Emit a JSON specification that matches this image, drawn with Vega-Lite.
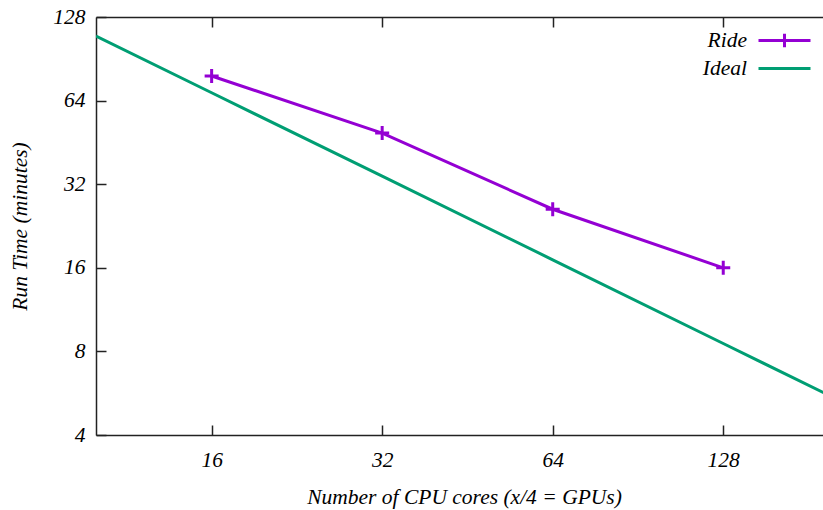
{
  "$schema": "https://vega.github.io/schema/vega-lite/v6.json",
  "width": 727,
  "height": 418,
  "autosize": {"type": "none"},
  "padding": {"left": 96, "top": 17, "right": 0, "bottom": 75},
  "background": "white",
  "config": {
    "view": {"stroke": null},
    "font": "Liberation Serif",
    "axis": {
      "grid": false,
      "labelFont": "Liberation Serif",
      "labelFontStyle": "italic",
      "labelFontSize": 21.5,
      "labelColor": "#000000",
      "titleFont": "Liberation Serif",
      "titleFontStyle": "italic",
      "titleFontWeight": "normal",
      "titleFontSize": 21.5,
      "titleColor": "#000000",
      "domainColor": "#222222",
      "domainWidth": 1.5,
      "tickColor": "#222222",
      "tickWidth": 1.5,
      "tickSize": -10
    }
  },
  "datasets": {
    "runs": [
      {"cores": 10, "time": 109.3, "series": "Ideal"},
      {"cores": 16, "time": 68.3, "series": "Ideal"},
      {"cores": 32, "time": 34.2, "series": "Ideal"},
      {"cores": 64, "time": 17.1, "series": "Ideal"},
      {"cores": 128, "time": 8.54, "series": "Ideal"},
      {"cores": 200, "time": 5.47, "series": "Ideal"},
      {"cores": 16, "time": 78.5, "series": "Ride"},
      {"cores": 32, "time": 48.9, "series": "Ride"},
      {"cores": 64, "time": 26.0, "series": "Ride"},
      {"cores": 128, "time": 16.0, "series": "Ride"}
    ]
  },
  "data": {"name": "runs"},
  "layer": [
    {
      "mark": {"type": "line", "strokeWidth": 3, "clip": true},
      "encoding": {
        "x": {
          "field": "cores", "type": "quantitative",
          "scale": {"type": "log", "base": 2, "domain": [10, 192], "nice": false},
          "axis": {
            "orient": "bottom",
            "values": [16, 32, 64, 128],
            "labelPadding": 24,
            "title": "Number of CPU cores (x/4 = GPUs)",
            "titleX": 368,
            "titleY": 62,
            "titleBaseline": "middle",
            "titleAnchor": "middle"
          }
        },
        "y": {
          "field": "time", "type": "quantitative",
          "scale": {"type": "log", "base": 2, "domain": [4, 128], "nice": false},
          "axis": {
            "orient": "left",
            "values": [4, 8, 16, 32, 64, 128],
            "labelPadding": 21,
            "title": "Run Time (minutes)",
            "titleX": -76,
            "titleY": 209,
            "titleAngle": -90,
            "titleBaseline": "middle",
            "titleAnchor": "middle"
          }
        },
        "color": {
          "field": "series", "type": "nominal",
          "scale": {"domain": ["Ride", "Ideal"], "range": ["#9400D3", "#009E73"]},
          "legend": {
            "title": null,
            "orient": "none",
            "legendX": 674,
            "legendY": 9,
            "padding": 0,
            "rowPadding": -2,
            "symbolType": "stroke",
            "symbolSize": 676,
            "symbolStrokeWidth": 3,
            "labelAlign": "right",
            "labelOffset": -52,
            "labelFont": "Liberation Serif",
            "labelFontStyle": "italic",
            "labelFontSize": 21.5,
            "labelColor": "#000000",
            "labelLimit": 0,
            "encode": {
              "symbols": {
                "update": {
                  "shape": {"signal": "datum.value === 'Ride' ? 'M-2,0H2M0,-0.52V0.52' : 'M-2,0H2'"},
                  "stroke": {"signal": "datum.value === 'Ride' ? '#9400D3' : '#009E73'"},
                  "strokeWidth": {"value": 3},
                  "fill": {"value": "transparent"},
                  "opacity": {"value": 1}
                }
              }
            }
          }
        }
      }
    },
    {
      "transform": [{"filter": "datum.series === 'Ride'"}],
      "mark": {"type": "point", "shape": "M-1,0H1M0,-1V1", "filled": false, "size": 196, "strokeWidth": 3, "color": "#9400D3", "opacity": 1},
      "encoding": {
        "x": {
          "field": "cores", "type": "quantitative",
          "axis": {"orient": "top", "values": [16, 32, 64, 128], "labels": false, "title": null}
        },
        "y": {"field": "time", "type": "quantitative"}
      }
    }
  ]
}
